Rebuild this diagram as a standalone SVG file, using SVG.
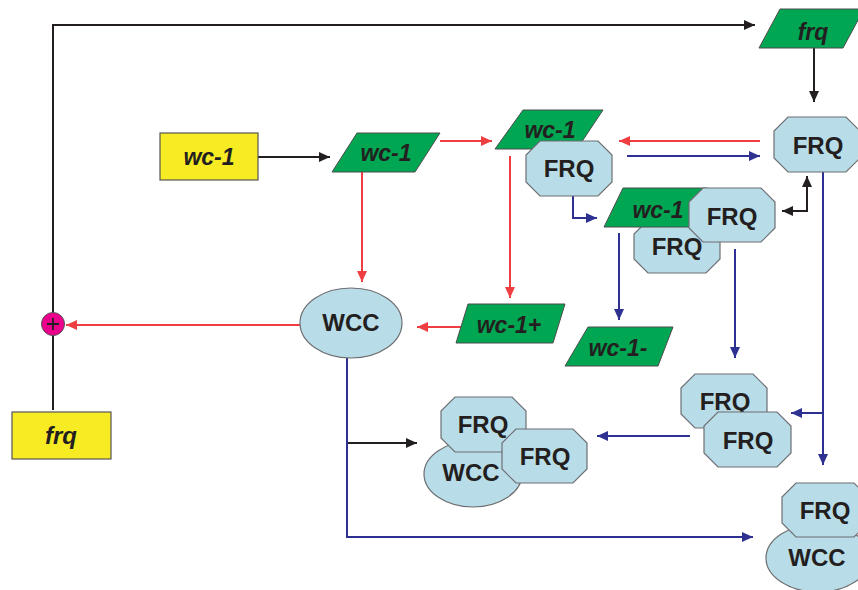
<svg xmlns="http://www.w3.org/2000/svg" width="858" height="590" viewBox="0 0 858 590">
<style>
.y{fill:#f7ec23;stroke:#555;stroke-width:1.2}
.g{fill:#00a651;stroke:#4d4d4d;stroke-width:1}
.b{fill:#b9dde8;stroke:#6d6e71;stroke-width:1.2}
.t{font-family:"Liberation Sans",Arial,sans-serif;font-weight:bold;font-size:24px;fill:#231f20;text-anchor:middle}
.i{font-style:italic;font-size:23px}
.k{fill:none;stroke:#231f20;stroke-width:2}
.r{fill:none;stroke:#ef3e42;stroke-width:2}
.u{fill:none;stroke:#2e3192;stroke-width:2}
</style>
<defs>
<marker id="ak" markerUnits="userSpaceOnUse" markerWidth="11" markerHeight="10" refX="11" refY="5" orient="auto-start-reverse"><path d="M0,0 L11,5 L0,10 z" fill="#231f20"/></marker>
<marker id="ar" markerUnits="userSpaceOnUse" markerWidth="11" markerHeight="10" refX="11" refY="5" orient="auto"><path d="M0,0 L11,5 L0,10 z" fill="#ef3e42"/></marker>
<marker id="au" markerUnits="userSpaceOnUse" markerWidth="11" markerHeight="10" refX="11" refY="5" orient="auto"><path d="M0,0 L11,5 L0,10 z" fill="#2e3192"/></marker>
</defs>
<rect width="858" height="590" fill="#fff"/>

<g id="connectors">
<path class="k" d="M258,157 H330" marker-end="url(#ak)"/>
<path class="k" d="M53,410 V25 H755" marker-end="url(#ak)"/>
<path class="k" d="M814,48 V102" marker-end="url(#ak)"/>
<path class="k" d="M782,211 H807 V176" marker-start="url(#ak)" marker-end="url(#ak)"/>
<path class="k" d="M347,443 H417" marker-end="url(#ak)"/>
<path class="r" d="M362,172 V282" marker-end="url(#ar)"/>
<path class="r" d="M440,141 H492" marker-end="url(#ar)"/>
<path class="r" d="M510,156 V298" marker-end="url(#ar)"/>
<path class="r" d="M760,141 H619" marker-end="url(#ar)"/>
<path class="r" d="M463,327 H417" marker-end="url(#ar)"/>
<path class="r" d="M300,325 H66" marker-end="url(#ar)"/>
<path class="u" d="M627,156 H760" marker-end="url(#au)"/>
<path class="u" d="M573,196 V218 H597" marker-end="url(#au)"/>
<path class="u" d="M619,233 V320" marker-end="url(#au)"/>
<path class="u" d="M735,249 V358" marker-end="url(#au)"/>
<path class="u" d="M823,172 V465" marker-end="url(#au)"/>
<path class="u" d="M823,413 H791" marker-end="url(#au)"/>
<path class="u" d="M690,436 H597" marker-end="url(#au)"/>
<path class="u" d="M347,358 V537 H753" marker-end="url(#au)"/>
</g>

<g id="plus">
<circle cx="53" cy="324" r="11.5" fill="#ec008c" stroke="#555" stroke-width="1"/>
<path d="M47,324 H59 M53,318 V330" stroke="#231f20" stroke-width="1.8"/>
</g>

<g id="wc1-gene">
<rect class="y" x="160" y="133" width="98" height="47"/>
<text class="t i" x="209" y="165">wc-1</text>
</g>

<g id="frq-gene">
<rect class="y" x="12" y="412" width="99" height="47"/>
<text class="t i" x="61" y="444" style="font-size:24px">frq</text>
</g>

<g id="wc1-mrna">
<polygon class="g" points="357,133 440,133 415,172 332,172"/>
<text class="t i" x="386" y="161">wc-1</text>
</g>

<g id="frq-mrna">
<polygon class="g" points="780,9 864,9 843,48 759,48"/>
<text class="t i" x="813" y="40">frq</text>
</g>

<g id="wc1-frq">
<polygon class="g" points="523,110 603,110 577,149 495,149"/>
<text class="t i" x="550" y="138">wc-1</text>
<polygon class="b" points="540,141 598,141 612,155 612,182 598,196 540,196 526,182 526,155"/>
<text class="t" x="569" y="177">FRQ</text>
</g>

<g id="frq-right">
<polygon class="b" points="788,117 846,117 860,131 860,158 846,172 788,172 774,158 774,131"/>
<text class="t" x="818" y="154">FRQ</text>
</g>

<g id="wc1-frq-frq">
<polygon class="b" points="648,220 706,220 720,234 720,259 706,273 648,273 634,259 634,234"/>
<text class="t" x="677" y="255">FRQ</text>
<polygon class="g" points="623,188 707,188 690,227 604,227"/>
<text class="t i" x="658" y="218">wc-1</text>
<polygon class="b" points="703,188 761,188 775,202 775,228 761,242 703,242 689,228 689,202"/>
<text class="t" x="732" y="225">FRQ</text>
</g>

<g id="wcc">
<ellipse class="b" cx="351" cy="323" rx="51" ry="35"/>
<text class="t" x="351" y="331">WCC</text>
</g>

<g id="wc1-plus">
<polygon class="g" points="468,304 565,304 553,343 456,343"/>
<text class="t i" x="509" y="333">wc-1+</text>
</g>

<g id="wc1-minus">
<polygon class="g" points="588,327 673,327 658,366 565,366"/>
<text class="t i" x="618" y="356">wc-1-</text>
</g>

<g id="frq-frq">
<polygon class="b" points="695,374 753,374 767,388 767,414 753,428 695,428 681,414 681,388"/>
<text class="t" x="725" y="410">FRQ</text>
<polygon class="b" points="718,412 777,412 791,426 791,453 777,467 718,467 704,453 704,426"/>
<text class="t" x="748" y="449">FRQ</text>
</g>

<g id="wcc-frq-frq">
<ellipse class="b" cx="473" cy="474" rx="49" ry="33"/>
<text class="t" x="471" y="481">WCC</text>
<polygon class="b" points="455,397 512,397 526,411 526,438 512,452 455,452 441,438 441,411"/>
<text class="t" x="483" y="433">FRQ</text>
<polygon class="b" points="516,429 573,429 587,443 587,469 573,483 516,483 502,469 502,443"/>
<text class="t" x="545" y="465">FRQ</text>
</g>

<g id="wcc-frq">
<ellipse class="b" cx="818" cy="558" rx="52" ry="34"/>
<text class="t" x="817" y="566">WCC</text>
<polygon class="b" points="796,483 854,483 868,497 868,523 854,537 796,537 782,523 782,497"/>
<text class="t" x="825" y="519">FRQ</text>
</g>
</svg>
